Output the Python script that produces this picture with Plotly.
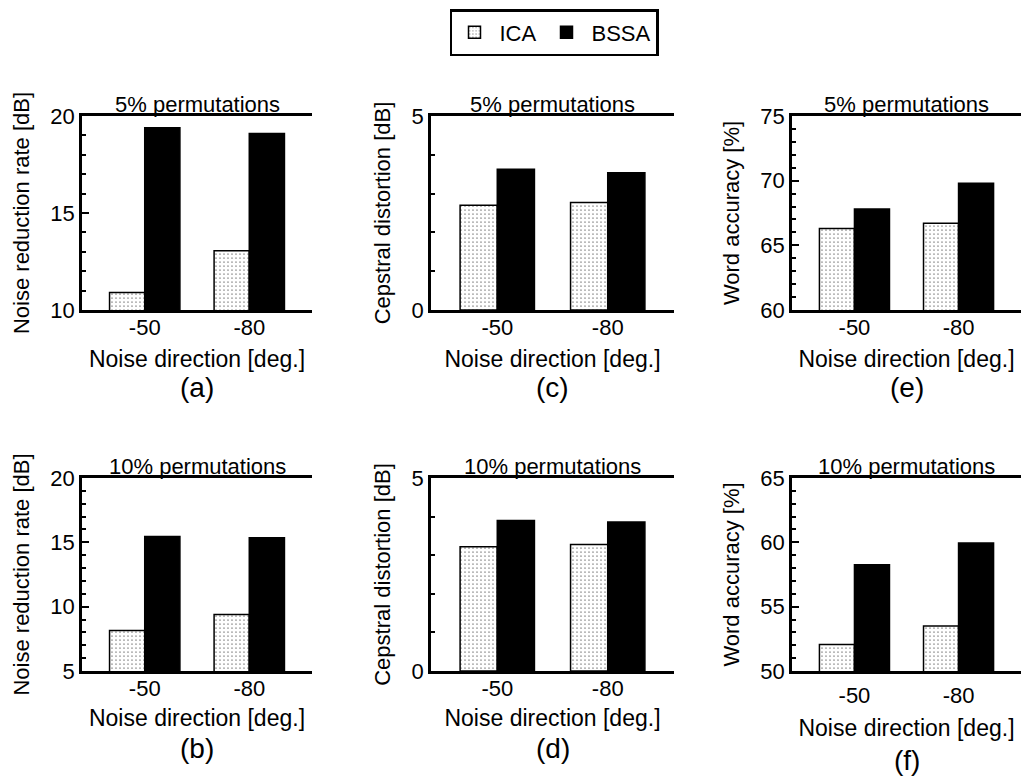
import plotly.graph_objects as go

# ---------------- data ----------------
directions = ["-50", "-80"]
series_names = ["ICA", "BSSA"]

nrr_5_ica = [10.9, 13.05]
nrr_5_bssa = [19.4, 19.1]
cd_5_ica = [2.70, 2.77]
cd_5_bssa = [3.63, 3.54]
wa_5_ica = [66.3, 66.7]
wa_5_bssa = [67.8, 69.8]

nrr_10_ica = [8.15, 9.4]
nrr_10_bssa = [15.45, 15.35]
cd_10_ica = [3.22, 3.28]
cd_10_bssa = [3.90, 3.86]
wa_10_ica = [52.05, 53.5]
wa_10_bssa = [58.25, 59.95]

panel_titles = ["5% permutations", "5% permutations", "5% permutations",
                "10% permutations", "10% permutations", "10% permutations"]
y_titles = ["Noise reduction rate [dB]", "Cepstral distortion [dB]", "Word accuracy [%]",
            "Noise reduction rate [dB]", "Cepstral distortion [dB]", "Word accuracy [%]"]
y_ranges = [[10, 20], [0, 5], [60, 75], [5, 20], [0, 5], [50, 65]]
panel_letters = ["(a)", "(c)", "(e)", "(b)", "(d)", "(f)"]
x_title = "Noise direction [deg.]"

ica_values = [nrr_5_ica, cd_5_ica, wa_5_ica, nrr_10_ica, cd_10_ica, wa_10_ica]
bssa_values = [nrr_5_bssa, cd_5_bssa, wa_5_bssa, nrr_10_bssa, cd_10_bssa, wa_10_bssa]

# ---------------- layout geometry (pixels) ----------------
W, H = 1024, 776
boxes = [(82, 312, 116, 310), (431, 674, 116, 310), (792, 1021, 116, 310),
         (82, 312, 478, 671), (431, 674, 478, 671), (792, 1021, 478, 671)]
letter_y = [387, 387, 387, 748, 748, 760]
xtick_standoff = [-4, -4, -4, -4, -4, 3]
xtitle_standoff = [12, 12, 12, 10, 10, 13]

FONT = "Liberation Sans, Arial, Helvetica, sans-serif"


def px_x(x):
    return x / W


def px_y(y):
    return 1 - y / H


ica_marker = dict(color="white", line=dict(color="black", width=1.5),
                  pattern=dict(shape=".", fgcolor="black", bgcolor="white", size=4, solidity=0.07))
bssa_marker = dict(color="black", line=dict(color="black", width=1.5))

minor_ticks = dict(dtick=1, ticks="inside", ticklen=4, tickwidth=1.5, tickcolor="black", showgrid=False)

fig = go.Figure()
annotations = []
for i in range(6):
    n = "" if i == 0 else str(i + 1)
    xa, ya = "x" + n, "y" + n
    fig.add_trace(go.Bar(x=directions, y=ica_values[i], name=series_names[0], xaxis=xa, yaxis=ya,
                         marker=ica_marker, offsetgroup="ica", legendgroup="ica",
                         showlegend=(i == 0)))
    fig.add_trace(go.Bar(x=directions, y=bssa_values[i], name=series_names[1], xaxis=xa, yaxis=ya,
                         marker=bssa_marker, offsetgroup="bssa", legendgroup="bssa",
                         showlegend=(i == 0)))
    x0, x1, y0, y1 = boxes[i]
    r = y_ranges[i]
    fig.layout["xaxis" + n] = dict(
        domain=[px_x(x0), px_x(x1)], anchor=ya, type="category", automargin=False,
        range=[-0.6, 1.6], showline=True, linewidth=2.5, linecolor="black", mirror=True,
        ticks="", showgrid=False, zeroline=False,
        tickfont=dict(family=FONT, size=22, color="black"),
        ticklabelstandoff=xtick_standoff[i],
        title=dict(text=x_title, font=dict(family=FONT, size=23, color="black"),
                   standoff=xtitle_standoff[i]),
    )
    fig.layout["yaxis" + n] = dict(
        domain=[px_y(y1), px_y(y0)], anchor=xa, range=r, automargin=False,
        tickmode="linear", tick0=r[0], dtick=5,
        ticks="inside", ticklen=7, tickwidth=2, tickcolor="black",
        minor=minor_ticks,
        showline=True, linewidth=2.5, linecolor="black",
        showgrid=False, zeroline=False,
        tickfont=dict(family=FONT, size=22, color="black"),
        title=dict(text=y_titles[i], font=dict(family=FONT, size=22, color="black"), standoff=15),
    )
    # right-hand frame edge with the same inside tick marks (no labels)
    k = str(i + 8)
    fig.layout["yaxis" + k] = dict(
        overlaying=ya, side="right", anchor=xa, range=r, automargin=False,
        tickmode="linear", tick0=r[0], dtick=5,
        ticks="inside", ticklen=7, tickwidth=2, tickcolor="black",
        minor=minor_ticks, showticklabels=False,
        showline=True, linewidth=2.5, linecolor="black",
        showgrid=False, zeroline=False, fixedrange=True,
    )
    annotations.append(dict(text=panel_titles[i], x=px_x((x0 + x1) / 2), y=px_y(y0 + 3),
                            xref="paper", yref="paper", xanchor="center", yanchor="bottom",
                            showarrow=False, font=dict(family=FONT, size=22, color="black")))
    annotations.append(dict(text=panel_letters[i], x=px_x((x0 + x1) / 2), y=px_y(letter_y[i]),
                            xref="paper", yref="paper", xanchor="center", yanchor="middle",
                            showarrow=False, font=dict(family=FONT, size=28, color="black")))

fig.update_layout(
    template="none",
    width=W, height=H, margin=dict(l=0, r=0, t=0, b=0, autoexpand=False),
    paper_bgcolor="white", plot_bgcolor="white",
    barmode="group", bargap=0.327, bargroupgap=0,
    annotations=annotations,
    font=dict(family=FONT, color="black"),
    showlegend=True,
    legend=dict(orientation="h", x=px_x(554), xanchor="center", y=px_y(9), yanchor="top",
                font=dict(family=FONT, size=22, color="black"),
                bordercolor="black", borderwidth=2.5, bgcolor="white",
                itemwidth=40, itemclick=False, itemdoubleclick=False),
)

fig.write_html("out.html")
